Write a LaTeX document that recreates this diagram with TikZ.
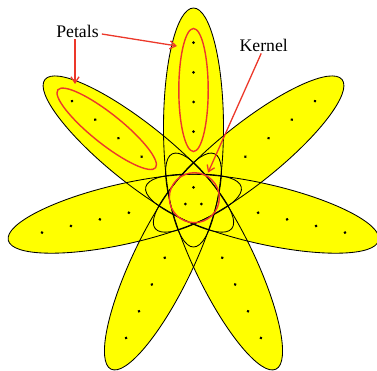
\documentclass[tikz,border=0pt]{standalone}
\usepackage{fontspec}
\setmainfont{Liberation Serif}
\usetikzlibrary{arrows.meta}
\definecolor{petalred}{RGB}{236,56,42}
\definecolor{petalyellow}{RGB}{255,255,0}
\begin{document}
\begin{tikzpicture}[x=1pt,y=1pt,
  petalfill/.style={fill=petalyellow},
  petalline/.style={draw=black,line width=0.85pt},
  seed/.style={fill=black},
  redring/.style={draw=petalred,line width=1.4pt},
  redarrow/.style={draw=petalred,line width=1.3pt,-{Straight Barb[length=6pt,width=8pt]}},
  label/.style={font=\fontsize{17.7}{20}\selectfont,inner sep=2pt}]
\useasboundingbox (0,0) rectangle (377,370);
\coordinate (C) at (193.5,172);
% fills
\foreach \k in {0,...,6}{
  \path[petalfill,shift={(C)},rotate={90+\k*360/7}] (70.5,0) ellipse [x radius=119.5,y radius=30];
}
% outlines and seeds
\foreach \k in {0,...,6}{
  \path[petalline,shift={(C)},rotate={90+\k*360/7}] (70.5,0) ellipse [x radius=119.5,y radius=30];
  \foreach \d in {66.3,96,125.7,155.4}{
    \path[seed,shift={(C)},rotate={90+\k*360/7}] (\d,0) circle (1.5);
  }
}
% kernel seeds
\path[seed] (C) ++(0,10.7) circle (1.5);
\path[seed] (C) ++(-8.2,-6) circle (1.5);
\path[seed] (C) ++(7.8,-6) circle (1.5);
% red rings
\path[redring,shift={(C)},rotate=90] (108,0) ellipse [x radius=61.5,y radius=14.7];
\path[redring,shift={(C)},rotate={90+360/7}] (111,0) ellipse [x radius=62.5,y radius=15];
\path[redring] (C) ++(0.8,0.3) circle (25);
% labels
\node[label] (petals) at (77.5,339) {Petals};
\node[label] (kernel) at (263.7,325) {Kernel};
\coordinate (tipA) at (177,324);
\coordinate (tipB) at (75,286);
\coordinate (tipC) at (208,197.3);
\path[redarrow] ([shift={(1,-3)}]petals.east) -- (tipA);
\path[redarrow] ([xshift=-2.5pt]petals.south) -- (tipB);
\path[redarrow] ([xshift=-2.5pt]kernel.south) -- (tipC);
\end{tikzpicture}
\end{document}
